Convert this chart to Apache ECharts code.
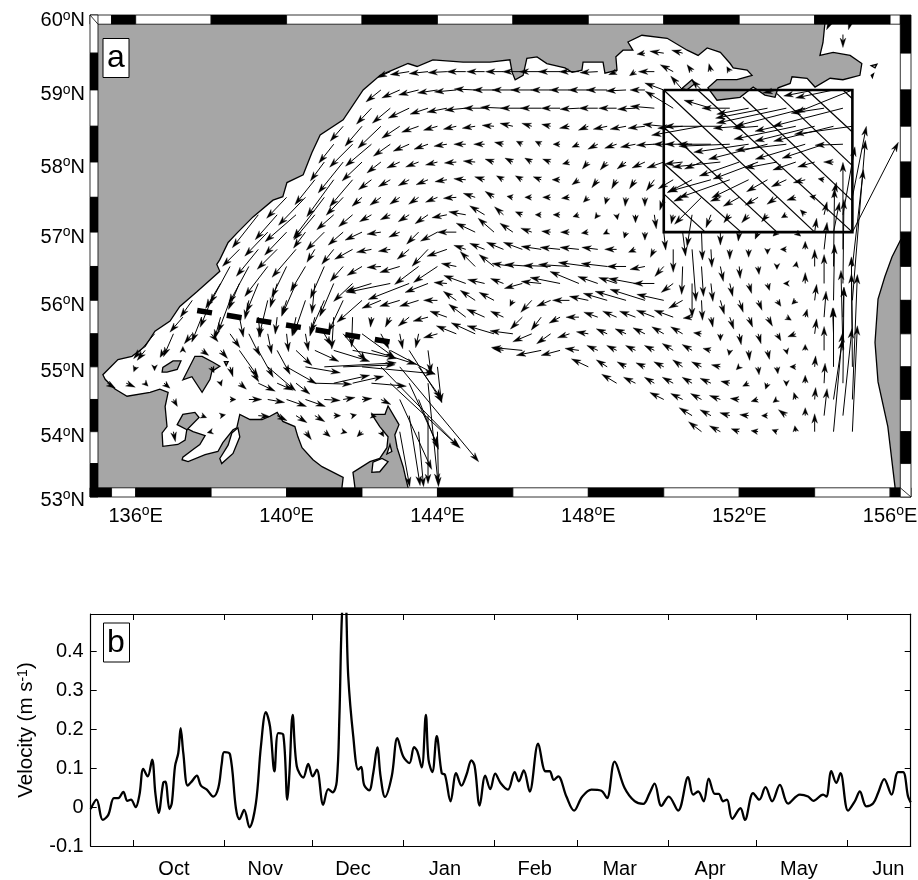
<!DOCTYPE html>
<html><head><meta charset="utf-8">
<style>html,body{margin:0;padding:0;background:#fff}#c{width:918px;height:880px}</style>
<script src="https://cdn.jsdelivr.net/npm/echarts@6/dist/echarts.min.js"></script></head>
<body><div id="c"></div>
<script>
// Panel a: coast outlines as [lon, lat]
const mainCoast=[[141.46,53],[141.47,53.13],[141.5,53.28],[140.94,53.45],[140.7,53.56],[140.41,53.75],[140.3,53.92],[140.22,54.08],[139.9,54.16],[139.75,54.3],[139.56,54.24],[139.35,54.19],[139.03,54.19],[138.76,54.27],[138.68,54.06],[138.58,54.03],[138.31,53.83],[138.18,53.69],[137.84,53.64],[137.39,53.53],[137.23,53.56],[137.25,53.6],[137.52,53.72],[137.7,53.8],[137.84,53.94],[137.52,54],[137.36,54.05],[137.31,53.87],[137.12,53.8],[136.72,53.77],[136.7,53.98],[136.83,54.08],[136.78,54.39],[136.86,54.61],[136.64,54.66],[136.38,54.61],[135.77,54.55],[135.45,54.66],[135.19,54.81],[135.13,54.88],[135.53,55.11],[135.9,55.16],[136.25,55.31],[136.51,55.54],[136.91,55.69],[137.17,55.91],[137.63,56.13],[138.23,56.43],[138.15,56.53],[138.23,56.6],[138.45,56.85],[138.69,56.99],[139.11,57.22],[139.64,57.46],[139.9,57.51],[140.01,57.71],[140.44,57.82],[140.67,58.13],[140.89,58.38],[141.5,58.59],[142.03,59],[142.48,59.2],[143.22,59.36],[143.46,59.32],[143.88,59.41],[144.68,59.38],[145.39,59.38],[145.92,59.41],[145.98,59.24],[146.06,59.14],[146.27,59.2],[146.37,59.43],[146.64,59.45],[146.9,59.36],[147.38,59.3],[147.57,59.24],[147.83,59.27],[147.86,59.38],[148.39,59.38],[148.44,59.23],[148.76,59.27],[148.73,59.45],[148.92,59.54],[149.18,59.54],[149.05,59.65],[149.42,59.74],[150.09,59.7],[150.62,59.54],[150.91,59.47],[151.15,59.57],[151.5,59.51],[151.76,59.36],[151.84,59.3],[152.21,59.27],[152.34,59.2],[151.94,59.14],[151.41,59.14],[151.17,59.03],[151.41,58.86],[152.02,58.9],[152.37,59.04],[152.68,58.93],[152.95,58.9],[153.03,59.03],[153.35,59.09],[153.4,59.18],[153.8,59.16],[154.01,59.04],[154.41,59.16],[154.75,59.14],[155.2,59.2],[155.25,59.36],[154.94,59.47],[154.49,59.51],[154.14,59.47],[154.22,59.64],[154.27,59.89],[154.35,60.05],[134.7,60.05],[134.7,53]];
const eastCoast=[[156.28,56.89],[156.05,56.64],[155.86,56.35],[155.68,56.02],[155.6,55.37],[155.68,54.77],[155.94,54.08],[156.13,53.13],[156.13,53],[156.4,53],[156.4,56.89]];
const southCoast=[[141.81,53],[141.81,53.13],[141.76,53.36],[142.21,53.53],[142.47,53.58],[142.66,53.75],[142.69,53.92],[142.47,54.08],[142.26,54.27],[142.61,54.27],[142.69,54.4],[142.98,54.11],[142.87,53.95],[142.93,53.75],[143.09,53.45],[143.17,53.24],[143.27,53]];
const islandBig=[[137.25,54.8],[137.57,55.16],[137.76,55.16],[138.05,55.07],[138.23,55.01],[138.02,54.93],[137.97,54.81],[137.76,54.61],[137.49,54.85]];
const islandSmall=[[136.7,54.92],[136.72,54.99],[136.99,55.09],[137.2,55.09],[137.1,54.96],[136.83,54.92]];
const islandSouth=[[137.1,54.11],[137.25,54.27],[137.57,54.3],[137.68,54.22],[137.36,54.03]];
const islandSpit=[[150.48,59.02],[150.75,59.14],[150.83,59.09],[150.61,59]];
const islandDot=[[138.35,55.08],[138.45,55.08],[138.4,55.02]];
const islandEast1=[[155.5,59.33],[155.65,59.35],[155.6,59.3]];
const islandEast2=[[155.5,59.2],[155.56,59.22],[155.53,59.17]];
const lakeSouthA=[[142.26,53.36],[142.29,53.52],[142.53,53.58],[142.69,53.53],[142.47,53.37]];
const lakeSouthB=[[142.66,53.65],[142.74,53.8],[142.79,53.69]];
const lagoon=[[138.71,54.06],[138.76,53.92],[138.58,53.66],[138.28,53.5],[138.23,53.58],[138.45,53.79],[138.55,53.98]];
const landShapes=[mainCoast,eastCoast,southCoast,islandBig,islandSmall,islandSouth,islandSpit,islandDot,islandEast1,islandEast2];
const waterShapes=[lakeSouthA,lakeSouthB,lagoon];

// Panel a: study box, its hatching and the section line
const studyBox=[[150,59],[155,59],[155,57],[150,57],[150,59]];
const hatchLines=[[150,57.55,151.1,57],[150,57.98,152.05,57],[150,58.49,153,57],[150,59,154,57],[150.9,59,155,57],[152.1,58.9,155,57.45],[153,58.95,155,57.95],[153.8,59,155,58.42],[154.75,59,155,58.88]];
const sectionLine=[[137.63,55.85],[142.82,55.37]];

// Panel a: velocity rows: [lat, first lon, east, north, east, north ...], lon step 0.5, 1 unit = 1 cm/s
const r6000=[60,154.5,-7,-14,-4,-14];
const r5975=[59.75,154.75,0,-13];
const r5950=[59.5,149.5,-8,-1,-14,2,-11,3];
const r5925=[59.25,142.75,-13,-6,-19,-3,-19,-2,-19,-1,-19,0,-18,0,-18,0,-20,0,-22,0,-22,0,-20,0,-18,-1,-8,-3,-6,-4,-16,0,-13,7,-5,7,-2,8,-3,5];
const r5900=[59,142.5,-15,-12,-18,-8,-20,-5,-20,-3,-22,-2,-21,1,-21,0,-21,0,-21,0,-20,0,-20,0,-20,0,-21,0,-20,-1,-15,0,-19,7,-12,14,-10,10,0,0,0,0,0,0,-14,-3,0,0,-31,-6,-38,-8,-57,-23];
const r5875=[58.75,142.25,-15,-16,-18,-15,-21,-10,-18,-6,-20,-4,-21,-2,-21,0,-23,1,-22,0,-21,0,-19,0,-19,-1,-19,0,-18,0,-18,-1,-24,2,-28,17,0,0,-27,8,-28,0,-32,-6,-52,-10,-70,-15,-70,-18,-33,-5,-70,-18];
const r5850=[58.5,141.5,-13,-15,-17,-20,-23,-22,-18,-12,-17,-6,-14,-4,-13,-3,-13,-2,-12,1,-13,3,-10,3,-9,2,-10,-2,-10,-4,-14,-3,-16,-3,-17,-2,-21,2,-25,-2,-50,-9,-56,0,-26,-2,-25,-2,-22,-5,-62,-13,-60,-15,-60,-15,-58,-8];
const r5825=[58.25,141.25,-15,-19,-23,-23,-26,-22,-17,-12,-16,-7,-14,-5,-13,-2,-12,0,-11,0,-9,2,-6,3,-6,3,-7,0,-7,-3,-10,-5,-12,-4,-15,-3,-18,-1,-20,0,-27,0,-33,0,-51,-2,-55,-8,-59,-15,-51,-6,-50,-15,-42,-14,-28,-1];
const r5800=[58,141,-14,-19,-25,-31,-20,-19,-14,-11,-13,-6,-13,-5,-12,-3,-12,-1,-12,1,-9,3,-8,4,-7,4,-8,3,-7,-2,-6,-7,-7,-8,-9,-7,-13,-6,-17,-6,-18,-2,-17,-7,-48,-5,-40,-14,-45,-17,-32,-6,-23,-8,-17,-5,-10,0];
const r5775=[57.75,140.75,-20,-25,-27,-37,-23,-27,-13,-10,-12,-7,-11,-6,-12,-5,-12,-2,-12,1,-10,3,-7,4,-7,4,-8,3,-8,0,-7,-5,-6,-8,-5,-9,-6,-9,-8,-11,-15,-9,-25,-13,-43,-12,-51,-18,-37,-18,-21,-12,-15,-7,-12,-3,-6,1];
const r5750=[57.5,140,-20,-21,-27,-28,-31,-41,-17,-18,-10,-9,-11,-8,-10,-7,-10,-7,-12,-5,-13,-1,-12,4,-9,6,-6,1,-7,0,-8,0,-8,-1,-5,-5,-2,-7,-1,-9,0,-9,-4,-13,-9,-4,-27,-27,-10,-4,-16,-9,-13,-8,-10,-7,-9,-3,-5,1,3,15,14,71];
const r5725=[57.25,139.25,-26,-33,-22,-25,-31,-27,-21,-25,-17,-15,-14,-12,-12,-7,-10,-5,-11,-7,-13,-9,-15,-3,-17,3,-15,9,-9,8,-7,3,-6,0,-7,0,-6,-2,-3,-4,1,-5,0,-8,2,-14,-2,-9,-5,-32,-5,-13,-6,-8,-7,-8,-6,-7,-5,-3,-5,5,3,13,12,68];
const r5700=[57,139.5,-23,-24,-22,-23,-12,-16,-18,-18,-15,-13,-17,-8,-14,-2,-11,-5,-12,-12,-17,-9,-19,0,-19,9,-16,14,-13,9,-11,4,-9,1,-9,0,-7,-1,-4,-2,-2,-6,0,-8,2,-18,3,-24,1,-28,0,-13,-1,-9,-3,-7,-4,-4,5,-4,2,14,6,30,46,90];
const r5675=[56.75,138.75,-17,-17,-22,-27,-20,-20,-24,-28,-8,-13,-12,-15,-18,-10,-15,-3,-12,-2,-12,-10,-16,-17,-20,-7,-12,4,-15,6,-17,7,-19,7,-20,3,-20,2,-19,2,-16,2,-12,0,-7,-3,-4,-8,0,-23,4,-52,1,-18,0,-10,0,-8,0,-5,-6,0,0,8,3,27,0,87];
const r5650=[56.5,138.5,-20,-37,-20,-37,-23,-30,-15,-31,-15,-25,-14,-32,-13,-15,-15,-9,-14,-1,-20,-6,-24,-18,-24,-16,-15,3,-15,15,-15,12,-21,3,-27,2,-27,1,-31,2,-30,4,-26,3,-19,0,-15,-3,-9,-10,-1,-28,2,-30,3,-15,1,-12,1,-8,0,-3,1,5,0,17,1,78,11,97];
const r5625=[56.25,138.25,-15,-25,-11,-26,-12,-29,-7,-24,-14,-32,-3,-30,-14,-33,-19,-18,-26,-8,-44,-9,-41,-16,-23,-9,-13,1,-22,8,-17,4,-13,5,-18,-5,-20,2,-30,6,-29,12,-20,7,-18,6,-27,5,-21,0,-12,-9,0,-34,2,-18,3,-13,3,-10,2,-7,-3,0,0,11,0,29,1,84];
const r5600=[56,137.5,-12,-17,-11,-27,-12,-32,-4,-19,-9,-37,-5,-16,-12,-35,-14,-32,-15,-32,-25,-22,-19,-8,-20,-6,-19,-6,-14,0,-13,9,-15,10,-15,8,-3,-6,-11,-12,-14,-6,-17,0,-19,4,-24,7,-31,9,-35,11,-27,6,-14,-8,1,-20,4,-14,4,-12,4,-10,4,-6,-4,-4,2,16,1,56,13,160];
const r5575=[55.75,137.25,-13,-15,-10,-25,-6,-22,4,-20,2,-20,-2,-17,-4,-19,-5,-19,-2,-32,-1,-30,-1,-10,-5,-10,-11,-9,-15,-4,-17,6,-17,13,-18,8,-13,6,-12,-12,-10,-13,-11,-6,-13,0,-14,5,-14,6,-16,6,-18,7,-19,7,-9,-1,2,-10,4,-12,4,-10,5,-9,5,-3,2,8,2,26,1,30];
const r5550=[55.5,136.5,-21,-25,-10,-23,-8,-10,7,-8,10,-14,11,-22,4,-20,2,-18,3,-17,7,-12,23,-27,33,-24,8,-15,3,-15,-3,-14,-14,-4,-20,8,-24,11,-27,8,-23,3,-19,-8,-14,-10,-12,-4,-12,2,-11,5,-11,5,-12,6,-12,7,-12,7,-8,1,0,-7,2,-11,3,-10,4,-7,-8,-3,2,15,-1,26,-1,60];
const r5525=[55.25,136.25,-8,-10,-4,-7,0,4,7,-5,7,-8,19,-27,15,-27,13,-24,16,-15,24,-11,36,-11,44,-8,45,-14,45,-24,33,-52,3,-23,0,0,0,0,0,0,-11,2,-31,3,-25,-5,-19,-5,-14,2,-11,5,-10,5,-10,5,-10,5,-11,7,-10,6,-8,2,-1,-5,1,-10,2,-9,1,-4,0,6,0,24,-2,80];
const r5500=[55,136,-2,-5,0,-4,0,0,0,0,3,-6,3,-10,10,-15,28,-24,30,-17,35,-6,72,4,52,2,73,-7,78,-80,79,-95,23,-32,4,-36,0,0,0,0,0,0,0,0,0,0,0,0,0,0,-17,8,-11,7,-9,5,-9,4,-10,5,-10,7,-10,5,-9,2,-3,-3,1,-8,1,-7,-6,0,1,11,0,59,-1,110];
const r5475=[54.75,135.25,8,-5,9,-4,3,-3,6,-5,0,0,0,0,1,-3,7,-6,17,-8,16,-7,14,-11,37,-1,36,8,31,7,35,-3,70,-65,29,-63,10,-100,0,0,0,0,0,0,0,0,0,0,0,0,0,0,0,0,0,0,-15,9,-12,6,-10,6,-11,6,-10,6,-11,5,-9,2,-6,-3,-2,-6,0,-3,0,8,1,20,1,96];
const r5450=[54.5,137,4,-7,0,0,0,0,6,0,13,0,17,-3,20,-7,20,-7,16,-1,12,2,10,1,10,-5,32,-70,20,-50,0,0,0,0,0,0,0,0,0,0,0,0,0,0,0,0,0,0,0,0,0,0,0,0,-14,7,-12,6,-11,6,-11,4,-9,1,-7,-2,-4,-3,-2,7,1,12,9,60,5,125];
const r5425=[54.25,137.75,5,-2,5,1,0,0,12,-1,10,-5,11,-7,10,-6,7,0,4,1,5,-1,0,0,11,-70,0,-68,0,0,0,0,0,0,0,0,0,0,0,0,0,0,0,0,0,0,0,0,0,0,0,0,0,0,-13,8,-11,6,-10,3,-9,1,-6,0,-8,6,0,8,3,27,9,87];
const r5400=[54,137,2,-10,0,0,-4,-1,0,0,0,0,0,0,0,0,6,-8,6,-5,4,-1,-5,-5,3,-5,10,-55,5,-55,1,-55,0,0,0,0,0,0,0,0,0,0,0,0,0,0,0,0,0,0,0,0,0,0,0,0,0,0,-13,10,-11,6,-8,3,-7,1,-5,2,-1,6,0,18,9,99,5,106];
const velocityRows=[r6000,r5975,r5950,r5925,r5900,r5875,r5850,r5825,r5800,r5775,r5750,r5725,r5700,r5675,r5650,r5625,r5600,r5575,r5550,r5525,r5500,r5475,r5450,r5425,r5400];

// Panel a: axis labels
const lonTicks=[136,140,144,148,152,156];
const latTicks=[53,54,55,56,57,58,59,60];

// Panel b: days from 1 Oct and velocity (m/s)
const seriesDays=[-14.4,-12.4,-10.3,-8.4,-6.5,-5,-3.3,-1.9,-0.7,0.9,2.2,3.5,5,6.5,7.6,8.7,10.3,11,12.4,13.2,14.3,15.4,16.2,17.1,18.6,20,21.7,23.1,25.1,27.3,29,30.2,31,33,35,36.2,37.8,39.6,41.8,43.5,45.2,46.6,48.1,49.4,51.1,52.5,53.2,54.3,55.7,57.9,59.6,61.1,62.5,64.7,66.4,67.9,69.3,70.2,71.1,72.1,73.2,74.9,76.6,77.6,78.6,80.3,81.7,83.1,84.2,85.7,88,89.9,91.9,94,95.6,96.7,98.2,99.6,100.5,101.8,103.3,105,106.1,108,109.9,111.7,113.4,115.1,116.2,117.9,119.8,121.5,123.2,125,127.5,129.8,131.2,132.9,134.9,137.8,140.3,141.7,143.1,144.6,147.4,150,152.7,155.9,159.3,161.2,163.8,167.2,170.6,173.5,175.7,177.4,179.7,182.2,185.4,188.8,190.5,192.2,194.1,195.8,197.9,199.2,200.7,202,203.8,206.6,208.1,210.9,213,215.1,217.4,220,222.8,226.8,229.6,231.4,234.7,235.8,237.5,239.2,240.6,243.2,245.5,247.2,249.4,251.7,253.4,255.5,258,260.2,261.9,263.6,264.5];
const seriesVelocity=[-0.005,0.019,-0.033,-0.02,0.023,0.023,0.039,0.016,0.019,0,0.032,0.098,0.079,0.122,0.036,-0.015,0.063,0.065,-0.005,0.01,0.105,0.139,0.203,0.139,0.055,0.066,0.081,0.055,0.045,0.027,0.049,0.113,0.141,0.135,-0.003,-0.031,-0.007,-0.052,0.01,0.156,0.244,0.207,0.092,0.19,0.186,0.019,0.087,0.237,0.105,0.076,0.111,0.079,0.096,0.006,0.046,0.038,0.066,0.233,0.5,0.56,0.336,0.182,0.096,0.103,0.057,0.043,0.087,0.153,0.079,0.026,0.079,0.177,0.13,0.113,0.154,0.143,0.102,0.237,0.122,0.09,0.182,0.087,0.083,0.015,0.087,0.055,0.083,0.12,0.105,0.004,0.081,0.046,0.086,0.062,0.045,0.09,0.066,0.094,0.04,0.163,0.092,0.092,0.07,0.079,0.027,-0.009,0.026,0.045,0.042,0.023,0.117,0.049,0.015,0.008,0.036,0.06,0.003,0.027,-0.009,0.077,0.032,0.04,0.015,0.073,0.034,0.034,0.015,0.019,-0.03,-0.003,-0.033,0.036,0.019,0.051,0.015,0.057,0.009,0.032,0.027,0.016,0.032,0.027,0.092,0.062,0.087,-0.009,0.015,0.04,0.002,0.009,0.036,0.072,0.032,0.09,0.09,0.027,0.012];
const monthNames=['Oct','Nov','Dec','Jan','Feb','Mar','Apr','May','Jun'];
const monthStarts=[0,31,61,92,123,151,182,212,243];
const monthLabelDays=[13.9,45,74.8,106.1,136.6,165.5,196.3,226.5,256.9];
const velocityTicks=[-0.1,0,0.1,0.2,0.3,0.4];

const FONT='"Liberation Sans", Arial, sans-serif';
const merc=lat=>Math.log(Math.tan(Math.PI/4+lat*Math.PI/360));
const PX_PER_MERC=2158, PX_PER_LON=37.72;
const yMin=merc(53)-2/PX_PER_MERC, yMax=merc(59)+75/PX_PER_MERC;
const xMin=136+(90-135.7)/PX_PER_LON, xMax=136+(911-135.7)/PX_PER_LON;
const bandLat=9.2/PX_PER_MERC;
const innerW=135, innerE=156.27;
const bandBottom=yMin+bandLat, bandTop=yMax-bandLat;

const arrowData=[];
velocityRows.forEach(r=>{
  for(let i=2,k=0;i<r.length;i+=2,k++){
    if(r[i]===0&&r[i+1]===0)continue;
    arrowData.push([r[1]+k*0.5,merc(r[0]),r[i],r[i+1]]);
  }
});

function polyItem(pts,style){
  return {type:'polygon',shape:{points:pts},style};
}
function shapeSeries(shapes,fill,stroke,z){
  return {type:'custom',xAxisIndex:0,yAxisIndex:0,coordinateSystem:'cartesian2d',silent:true,z,clip:true,animation:false,
    data:shapes.map((s,i)=>[s[0][0],merc(s[0][1]),i]),
    renderItem:(p,api)=>{
      const s=shapes[api.value(2)];
      return polyItem(s.map(q=>api.coord([q[0],merc(q[1])])),{fill,stroke,lineWidth:1.3});
    }};
}
const arrowSeries={type:'custom',xAxisIndex:0,yAxisIndex:0,coordinateSystem:'cartesian2d',silent:true,z:4,clip:true,animation:false,
  data:arrowData,
  renderItem:(p,api)=>{
    const a=api.coord([api.value(0),api.value(1)]);
    const dx=api.value(2), dy=-api.value(3);
    const len=Math.hypot(dx,dy);
    const ux=dx/len, uy=dy/len;
    const b=[a[0]+dx,a[1]+dy];
    const hl=Math.min(9.5,Math.max(len*0.95,6));
    const hw=2.9;
    const bx=b[0]-ux*hl, by=b[1]-uy*hl;
    const nx=b[0]-ux*hl*0.72, ny=b[1]-uy*hl*0.72;
    return {type:'group',children:[
      {type:'line',shape:{x1:a[0],y1:a[1],x2:nx,y2:ny},style:{stroke:'#000',lineWidth:1}},
      {type:'polygon',shape:{points:[b,[bx-uy*hw,by+ux*hw],[nx,ny],[bx+uy*hw,by-ux*hw]]},style:{fill:'#000',stroke:'#000',lineWidth:0.3}}
    ]};
  }};
const hatchSeries={type:'custom',xAxisIndex:0,yAxisIndex:0,coordinateSystem:'cartesian2d',silent:true,z:5,clip:true,animation:false,
  data:hatchLines.map(h=>[h[0],merc(h[1]),h[2],merc(h[3])]),
  renderItem:(p,api)=>{
    const a=api.coord([api.value(0),api.value(1)]), b=api.coord([api.value(2),api.value(3)]);
    return {type:'line',shape:{x1:a[0],y1:a[1],x2:b[0],y2:b[1]},style:{stroke:'#000',lineWidth:1.2}};
  }};
const boxSeries={type:'line',xAxisIndex:0,yAxisIndex:0,data:studyBox.map(q=>[q[0],merc(q[1])]),symbol:'none',z:6,silent:true,animation:false,
  lineStyle:{color:'#000',width:2.6,join:'miter'}};
const sectionSeries={type:'line',xAxisIndex:0,yAxisIndex:0,data:sectionLine.map(q=>[q[0],merc(q[1])]),symbol:'none',z:6,silent:true,animation:false,
  lineStyle:{color:'#000',width:5.5,type:[15,15],cap:'butt'}};

// Checkered frame
const lonEdges=[135.36,136,138,140,142,144,146,148,150,152,154,156,156.27];
const latEdges=[60,59.5,59,58.5,58,57.5,57,56.5,56,55.5,55,54.5,54,53.5,53];
const bands=[];
bands.push([xMin,bandTop,135.36,yMax,0]);
for(let i=0;i<lonEdges.length-1;i++)bands.push([lonEdges[i],bandTop,lonEdges[i+1],yMax,(i%2===0)?1:0]);
bands.push([xMin,yMin,135.36,bandBottom,1]);
for(let i=0;i<lonEdges.length-1;i++)bands.push([lonEdges[i],yMin,lonEdges[i+1],bandBottom,(i%2===0)?0:1]);
bands.push([156.27,yMin,xMax,bandBottom,0]);
const mEdge=e=>e===60?yMax:(e===53?yMin:merc(e));
for(let i=0;i<latEdges.length-1;i++){
  bands.push([xMin,mEdge(latEdges[i+1]),innerW,mEdge(latEdges[i]),(i%2===0)?0:1]);
  bands.push([innerE,mEdge(latEdges[i+1]),xMax,mEdge(latEdges[i]),(i%2===0)?1:0]);
}
const frameSeries={type:'custom',xAxisIndex:0,yAxisIndex:0,coordinateSystem:'cartesian2d',silent:true,z:8,clip:false,animation:false,
  data:bands,
  renderItem:(p,api)=>{
    const a=api.coord([api.value(0),api.value(1)]), b=api.coord([api.value(2),api.value(3)]);
    return {type:'rect',shape:{x:a[0],y:b[1],width:b[0]-a[0],height:a[1]-b[1]},
      style:{fill:api.value(4)?'#000':'#fff',stroke:'#000',lineWidth:0.8}};
  }};
const cornerSeries={type:'custom',xAxisIndex:0,yAxisIndex:0,coordinateSystem:'cartesian2d',silent:true,z:9,clip:false,animation:false,
  data:[[xMin,yMax,innerW,bandTop],[innerE,bandBottom,xMax,yMin]],
  renderItem:(p,api)=>{
    const a=api.coord([api.value(0),api.value(1)]), b=api.coord([api.value(2),api.value(3)]);
    return {type:'line',shape:{x1:a[0],y1:a[1],x2:b[0],y2:b[1]},style:{stroke:'#000',lineWidth:0.8}};
  }};

const chart=echarts.init(document.getElementById('c'),null,{renderer:'canvas'});
const axisText={color:'#000',fontFamily:FONT,fontSize:20};
const sup={s:{fontSize:14,fontFamily:FONT,color:'#000',padding:[0,0,10,0]}};
const supName={s:{fontSize:14,fontFamily:FONT,color:'#000',padding:[0,0,8,0]}};
chart.setOption({
  animation:false,backgroundColor:'#fff',
  grid:[{left:90,top:15,width:821,height:482,outerBoundsMode:'none'},{left:90.7,top:614,width:820,height:232,outerBoundsMode:'none'}],
  xAxis:[
    {gridIndex:0,type:'value',min:xMin,max:xMax,splitLine:{show:false},axisLine:{show:false},axisTick:{show:false},
      axisLabel:{...axisText,customValues:lonTicks,margin:7,hideOverlap:false,formatter:v=>v+'{s|o}E',rich:sup}},
    {gridIndex:1,type:'value',min:-14.39,max:264.5,splitLine:{show:false},
      axisLine:{onZero:false,lineStyle:{color:'#000',width:1.2}},
      axisTick:{inside:true,length:6,customValues:monthStarts,lineStyle:{color:'#000',width:1}},
      axisLabel:{...axisText,margin:13,customValues:monthLabelDays,formatter:v=>monthNames[monthLabelDays.indexOf(v)]}},
    {gridIndex:1,type:'value',position:'top',min:-14.39,max:264.5,splitLine:{show:false},
      axisLine:{onZero:false,lineStyle:{color:'#000',width:1.2}},
      axisTick:{inside:true,length:6,customValues:monthStarts,lineStyle:{color:'#000',width:1}},axisLabel:{show:false}}
  ],
  yAxis:[
    {gridIndex:0,type:'value',min:yMin,max:yMax,splitLine:{show:false},axisLine:{show:false},axisTick:{show:false},
      axisLabel:{...axisText,customValues:latTicks.map(merc),margin:5,hideOverlap:false,padding:[10,0,0,0],
        formatter:v=>Math.round(Math.atan(Math.exp(v))*360/Math.PI-90)+'{s|o}N',rich:sup}},
    {gridIndex:1,type:'value',min:-0.1,max:0.496,splitLine:{show:false},
      name:'Velocity (m s{s|-1})',nameLocation:'middle',nameGap:53,nameRotate:90,
      nameTextStyle:{...axisText,fontSize:20.5,rich:supName},
      axisLine:{onZero:false,lineStyle:{color:'#000',width:1.2}},
      axisTick:{inside:true,length:6,customValues:velocityTicks,lineStyle:{color:'#000',width:1}},
      axisLabel:{...axisText,margin:7,padding:[3,0,0,0],customValues:velocityTicks,formatter:v=>String(+v.toFixed(1))}},
    {gridIndex:1,type:'value',position:'right',min:-0.1,max:0.496,splitLine:{show:false},
      axisLine:{onZero:false,lineStyle:{color:'#000',width:1.2}},
      axisTick:{inside:true,length:6,customValues:velocityTicks,lineStyle:{color:'#000',width:1}},axisLabel:{show:false}}
  ],
  series:[
    shapeSeries(landShapes,'#a6a6a6','#000',1),
    shapeSeries(waterShapes,'#fff','#000',2),
    arrowSeries,hatchSeries,boxSeries,sectionSeries,frameSeries,cornerSeries,
    {type:'line',xAxisIndex:1,yAxisIndex:1,data:seriesDays.map((d,i)=>[d,seriesVelocity[i]]),symbol:'none',smooth:0.35,
      clip:true,silent:true,animation:false,lineStyle:{color:'#000',width:2.3}}
  ],
  graphic:[
    {type:'rect',z:20,shape:{x:103,y:38.5,width:26,height:39},style:{fill:'#fff',stroke:'#000',lineWidth:1}},
    {type:'text',z:21,style:{x:116,y:58,text:'a',font:'32px '+FONT,fill:'#000',textAlign:'center',textVerticalAlign:'middle'}},
    {type:'rect',z:20,shape:{x:103.5,y:623,width:26,height:39},style:{fill:'#fff',stroke:'#000',lineWidth:1}},
    {type:'text',z:21,style:{x:116,y:643,text:'b',font:'32px '+FONT,fill:'#000',textAlign:'center',textVerticalAlign:'middle'}}
  ]
});
</script></body></html>
